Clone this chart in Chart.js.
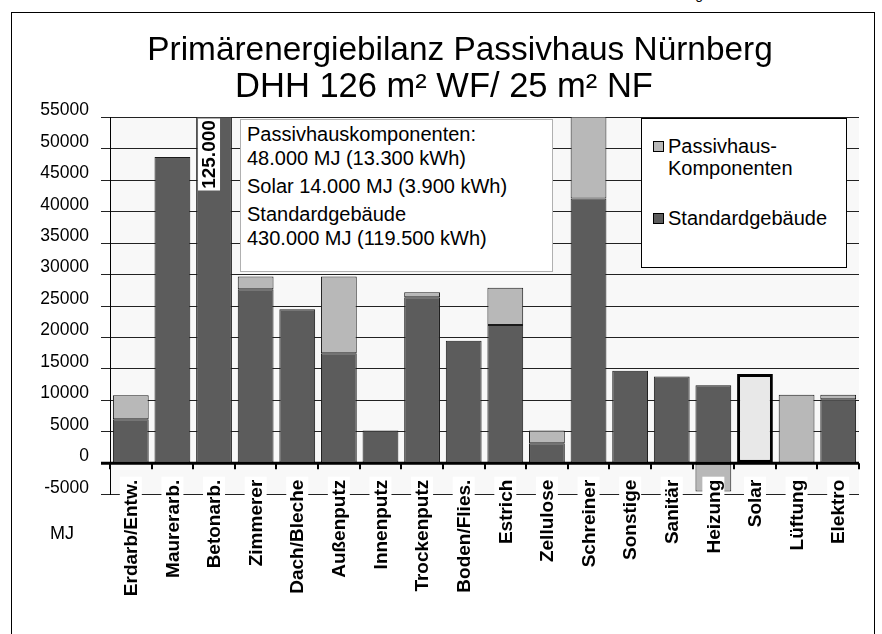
<!DOCTYPE html>
<html>
<head>
<meta charset="utf-8">
<script src="https://cdn.jsdelivr.net/npm/chart.js@4/dist/chart.umd.min.js"></script>
<style>
    body { margin: 0; background: #fff; font-family: "Liberation Sans", Arial, sans-serif; }
    #wrap { position: relative; width: 882px; height: 634px; overflow: hidden; }
    #frame { position: absolute; left: 11px; top: 12px; width: 864px; height: 700px; border: 1px solid #000; box-sizing: border-box; }
    canvas { position: absolute; left: 0; top: 0; }
    .title { position: absolute; left: 0; width: 882px; text-align: center; line-height: 37px; color: #000; white-space: nowrap; }
    .cut { position: absolute; left: 560px; width: 143px; top: -14px; text-align: right; font-size: 14px; color: #000; }
    #info { position: absolute; left: 240px; top: 119px; width: 313px; height: 153px; background: #fff; border: 1px solid #b0b0b0; box-sizing: border-box; font-size: 20px; }
    #info div { position: absolute; left: 6px; white-space: nowrap; line-height: 22px; }
    #legend { position: absolute; left: 641px; top: 118px; width: 206px; height: 150px; background: #fff; border: 1px solid #000; box-sizing: border-box; font-size: 20px; }
    #legend .sw { position: absolute; left: 11px; width: 11px; height: 11px; border: 1px solid #000; box-sizing: border-box; }
    #legend .tx { position: absolute; left: 26px; white-space: nowrap; line-height: 22px; }
    #mj { position: absolute; left: 50px; top: 523px; font-size: 18px; }
</style>
</head>
<body>
<div id="wrap">
    <div class="cut">Nürnberg</div>
    <div id="frame"></div>
    <canvas id="chart" width="882" height="634"></canvas>
    <div class="title" style="top: 30px; left: 19px; font-size: 33.4px;">Primärenergiebilanz Passivhaus Nürnberg</div>
    <div class="title" style="top: 67px; left: 3px; font-size: 34.5px;">DHH 126 m² WF/ 25 m² NF</div>
    <div id="info">
        <div style="top: 3px;">Passivhauskomponenten:</div>
        <div style="top: 27px;">48.000 MJ (13.300 kWh)</div>
        <div style="top: 55px;">Solar 14.000 MJ (3.900 kWh)</div>
        <div style="top: 83px;">Standardgebäude</div>
        <div style="top: 107px;">430.000 MJ (119.500 kWh)</div>
    </div>
    <div id="legend">
        <div class="sw" style="top: 22px; background: #b8b8b8;"></div>
        <div class="tx" style="top: 16px;">Passivhaus-</div>
        <div class="tx" style="top: 38px;">Komponenten</div>
        <div class="sw" style="top: 94px; background: #5c5c5c;"></div>
        <div class="tx" style="top: 88px;">Standardgebäude</div>
    </div>
    <div id="mj">MJ</div>
</div>
<script>
const categories = ["Erdarb/Entw.", "Maurerarb.", "Betonarb.", "Zimmerer", "Dach/Bleche", "Außenputz",
    "Innenputz", "Trockenputz", "Boden/Flies.", "Estrich", "Zellulose", "Schreiner",
    "Sonstige", "Sanitär", "Heizung", "Solar", "Lüftung", "Elektro"];
const standardValues = [7000, 48700, 125000, 27700, 24500, 17500, 5200, 26400, 19500, 22000, 3200, 42100,
    14700, 13800, 12400, null, null, 10200];
const passivValues = [3800, null, null, 2000, null, 12200, null, 800, null, 5900, 2000, 14000,
    null, null, -4500, null, 10900, 700];
const solarValues = [null, null, null, null, null, null, null, null, null, null, null, null,
    null, null, null, 14200, null, null];
const yTicks = [-5000, 0, 5000, 10000, 15000, 20000, 25000, 30000, 35000, 40000, 45000, 50000, 55000];

const FONT = "'Liberation Sans', Arial, sans-serif";

// light grey plot area
const plotBg = {
    id: "plotBg",
    beforeDraw(chart) {
        const { ctx, chartArea: a } = chart;
        ctx.save();
        ctx.fillStyle = "#f8f8f8";
        ctx.fillRect(a.left, a.top, a.right - a.left, a.bottom - a.top);
        ctx.restore();
    }
};

// thick zero line + category ticks below it
const zeroAxis = {
    id: "zeroAxis",
    afterDatasetsDraw(chart) {
        const { ctx } = chart;
        const xs = chart.scales.x;
        const y0 = chart.scales.y.getPixelForValue(0);
        const step = (xs.right - xs.left) / categories.length;
        ctx.save();
        ctx.strokeStyle = "#000";
        ctx.lineWidth = 3;
        ctx.beginPath();
        ctx.moveTo(xs.left - 9, y0);
        ctx.lineTo(xs.right, y0);
        ctx.stroke();
        ctx.lineWidth = 2;
        ctx.beginPath();
        for (let i = 0; i <= categories.length; i++) {
            const px = Math.round(xs.left + i * step);
            ctx.moveTo(px, y0);
            ctx.lineTo(px, y0 + 6);
        }
        ctx.stroke();
        ctx.restore();
    }
};

// rotated category labels on white boxes (they sit over the -5000 line)
const catLabels = {
    id: "catLabels",
    afterDatasetsDraw(chart) {
        const { ctx } = chart;
        const xs = chart.scales.x;
        const top = chart.scales.y.getPixelForValue(-5000) - 15;
        ctx.save();
        ctx.font = "bold 19px " + FONT;
        ctx.textAlign = "right";
        ctx.textBaseline = "middle";
        categories.forEach((c, i) => {
            const w = ctx.measureText(c).width;
            ctx.save();
            ctx.translate(xs.getPixelForValue(i), top);
            ctx.rotate(-Math.PI / 2);
            ctx.fillStyle = "#fff";
            ctx.fillRect(-w - 3, -11, w + 6, 22);
            ctx.fillStyle = "#000";
            ctx.fillText(c, 0, 1);
            ctx.restore();
        });
        ctx.restore();
    }
};

// value label for the clipped Betonarb. bar
const bigLabel = {
    id: "bigLabel",
    afterDatasetsDraw(chart) {
        const { ctx, chartArea } = chart;
        const el = chart.getDatasetMeta(0).data[2];
        const text = String(standardValues[2]).replace(/\B(?=(\d{3})+(?!\d))/g, ".");
        ctx.save();
        ctx.translate(el.x - 5, chartArea.top + 37);
        ctx.rotate(-Math.PI / 2);
        ctx.fillStyle = "#fff";
        ctx.fillRect(-36, -11, 72, 22);
        ctx.fillStyle = "#000";
        ctx.font = "bold 19px " + FONT;
        ctx.textAlign = "center";
        ctx.textBaseline = "middle";
        ctx.fillText(text, 0, 1);
        ctx.restore();
    }
};

const barCommon = {
    borderColor: "#1a1a1a",
    borderWidth: 1,
    borderSkipped: false,
    barPercentage: 0.86,
    categoryPercentage: 1.0,
    stack: "s"
};

new Chart(document.getElementById("chart"), {
    type: "bar",
    data: {
        labels: categories,
        datasets: [
            { ...barCommon, label: "Standardgebäude", data: standardValues, backgroundColor: "#5c5c5c" },
            { ...barCommon, label: "Passivhaus-Komponenten", data: passivValues, backgroundColor: "#b8b8b8" },
            { ...barCommon, label: "Solar", data: solarValues, backgroundColor: "#e8e8e8", borderColor: "#000", borderWidth: 3 }
        ]
    },
    options: {
        responsive: false,
        animation: false,
        layout: { padding: { top: 117.5, left: 0, right: 23, bottom: 0 } },
        plugins: {
            legend: { display: false },
            title: { display: false },
            tooltip: { enabled: false }
        },
        scales: {
            x: {
                stacked: true,
                grid: { display: false, drawTicks: false },
                border: { display: false },
                ticks: { display: false },
                afterFit: (scale) => { scale.height = 139.3; }
            },
            y: {
                stacked: true,
                min: -5000,
                max: 55000,
                afterBuildTicks: (scale) => { scale.ticks = yTicks.map(v => ({ value: v })); },
                grid: {
                    color: "#222",
                    lineWidth: 1,
                    tickLength: 9
                },
                border: { display: true, color: "#000", width: 1 },
                ticks: {
                    color: "#000",
                    padding: 12,
                    labelOffset: -7,
                    font: { family: FONT, size: 17.5 },
                    callback: (v) => String(v)
                },
                afterFit: (scale) => { scale.width = 110; }
            }
        }
    },
    plugins: [plotBg, zeroAxis, catLabels, bigLabel]
});
</script>
</body>
</html>
